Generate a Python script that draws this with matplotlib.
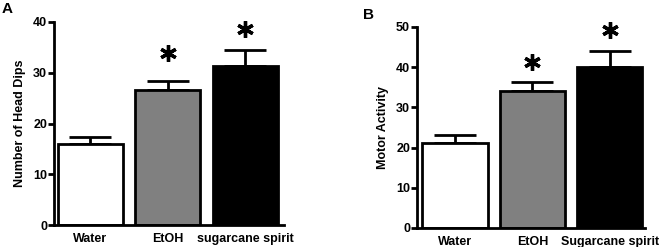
import matplotlib
matplotlib.use("Agg")
import matplotlib.pyplot as plt

plt.rcParams['font.family'] = ['Liberation Sans', 'DejaVu Sans']
plt.rcParams['font.weight'] = 'bold'

groups_a = ["Water", "EtOH", "sugarcane spirit"]
dips_mean = [16.0, 26.6, 31.3]
dips_sem = [1.4, 1.8, 3.1]
dips_star = [None, 33.9, 38.6]

groups_b = ["Water", "EtOH", "Sugarcane spirit"]
motor_mean = [21.2, 34.1, 40.0]
motor_sem = [1.9, 2.1, 3.9]
motor_star = [None, 41.3, 49.2]

colors = ["white", "#808080", "black"]


def panel(ax, names, means, sems, stars, ymax, step, ylabel):
    x = list(range(len(names)))
    ax.bar(x, means, width=0.84, color=colors, edgecolor="black", linewidth=2, zorder=2)
    ax.errorbar(x, means, yerr=[[0] * len(sems), sems], fmt="none", ecolor="black",
                elinewidth=2, capsize=15, capthick=2, zorder=1)
    for xi, s in zip(x, stars):
        if s is not None:
            ax.plot(xi, s, marker=(6, 2, 0), markersize=12, mew=2.4, color="black",
                    clip_on=False)
    ax.set_ylim(0, ymax)
    ax.set_yticks(range(0, ymax + 1, step))
    ax.set_xticks(x)
    ax.set_xticklabels(names, fontsize=9, fontweight="bold")
    ax.tick_params(axis="x", length=0, pad=6)
    ax.tick_params(axis="y", width=2, length=4, labelsize=9, pad=1)
    for lbl in ax.get_yticklabels():
        lbl.set_fontweight("bold")
    ax.spines["top"].set_visible(False)
    ax.spines["right"].set_visible(False)
    ax.spines["left"].set_linewidth(2)
    ax.spines["bottom"].set_linewidth(2)
    ax.set_ylabel(ylabel, fontsize=9, fontweight="bold", labelpad=5)


fig = plt.figure(figsize=(6.62, 2.47), dpi=100)
ax1 = fig.add_axes([0.0816, 0.089, 0.347, 0.822])
ax2 = fig.add_axes([0.630, 0.077, 0.344, 0.814])

panel(ax1, groups_a, dips_mean, dips_sem, dips_star, 40, 10, "Number of Head Dips")
ax1.set_xlim(-0.47, 2.5)
panel(ax2, groups_b, motor_mean, motor_sem, motor_star, 50, 10, "Motor Activity")
ax2.set_xlim(-0.49, 2.45)

fig.text(0.002, 0.962, "A", fontsize=11, fontweight="bold", va="center")
fig.text(0.548, 0.94, "B", fontsize=11, fontweight="bold", va="center")

fig.savefig("out.png", dpi=100)
